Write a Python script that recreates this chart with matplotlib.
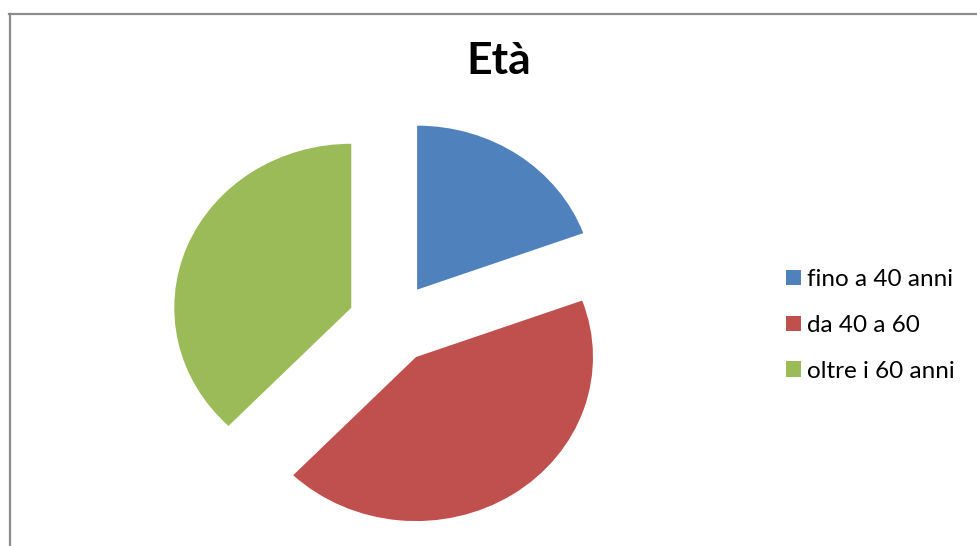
import matplotlib.pyplot as plt
from matplotlib.lines import Line2D

# data
labels = ["fino a 40 anni", "da 40 a 60", "oltre i 60 anni"]
values = [19.4, 42.8, 37.8]
colors = ["#4F81BD", "#C0504D", "#9BBB59"]
title = "Età"

plt.rcParams["font.family"] = ["Lato", "DejaVu Sans"]

W, H = 978, 546
fig = plt.figure(figsize=(W / 100, H / 100), dpi=100)

# pie centre and radii in pixels (the original is slightly squashed)
cx, cy = 392, 323
rx, ry = 177, 164
lim = 1.35
ax = fig.add_axes([(cx - lim * rx) / W, (H - cy - lim * ry) / H,
                   2 * lim * rx / W, 2 * lim * ry / H])
wedges, _ = ax.pie(values, colors=colors, startangle=90, counterclock=False,
                   explode=[0.248] * 3, wedgeprops=dict(linewidth=0))
ax.set_aspect("auto")
ax.set_xlim(-lim, lim)
ax.set_ylim(-lim, lim)

fig.text(499 / W, 1 - 61 / H, title, ha="center", va="center",
         fontsize=32, fontweight="bold")

fig.legend(wedges, labels, loc="upper left", bbox_to_anchor=(786 / W, 1 - 269 / H),
           frameon=False, fontsize=17.5, handlelength=0.6, handleheight=0.6,
           handletextpad=0.25, labelspacing=1.02, borderaxespad=0, borderpad=0)

# grey chart border (runs off the right and bottom edges)
fig.add_artist(Line2D([9 / W, 1.01], [1 - 14 / H] * 2, transform=fig.transFigure,
                      color="#8c8c8c", linewidth=1.6))
fig.add_artist(Line2D([10 / W] * 2, [1 - 14 / H, -0.01], transform=fig.transFigure,
                      color="#8c8c8c", linewidth=1.6))

fig.savefig("out.png", dpi=100)
